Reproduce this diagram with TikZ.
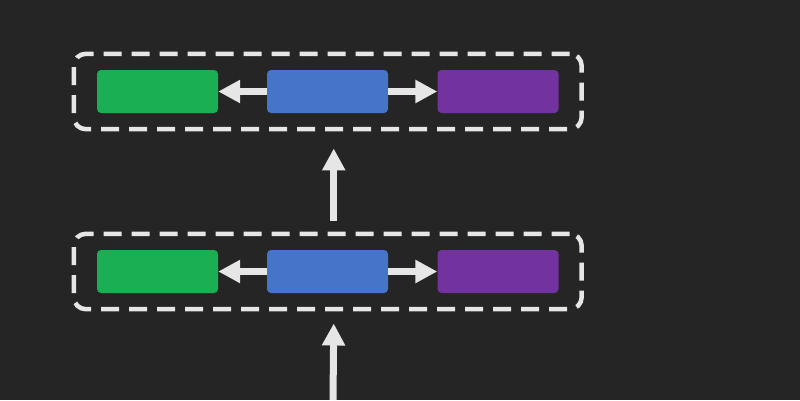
\documentclass[tikz,border=0pt]{standalone}
\usetikzlibrary{arrows.meta,fit}
\definecolor{bg}{HTML}{252525}
\definecolor{fg}{HTML}{E6E6E6}
\definecolor{cgreen}{HTML}{1BAF54}
\definecolor{cblue}{HTML}{4674C6}
\definecolor{cpurple}{HTML}{7232A0}
\tikzset{
  cell/.style={rounded corners=4pt, minimum width=121pt, minimum height=43pt, inner sep=0pt},
  frame/.style={draw=fg, line width=4.5pt, rounded corners=12pt, dash pattern=on 18pt off 10pt,
    inner xsep=23pt, inner ysep=16pt},
  flow/.style={draw=fg, line width=7pt, -{Triangle[length=22pt,width=22pt]}}
}
\begin{document}
\begin{tikzpicture}[x=1pt,y=-1pt]
      \fill[bg] (0,0) rectangle (800,400);
      \useasboundingbox (0,0) rectangle (800,400);
      \path
        (157.5,91.5) node[cell,fill=cgreen] (g1){}
        (327.5,91.5) node[cell,fill=cblue] (b1){}
        (498,91.5) node[cell,fill=cpurple] (p1){}
        (157.5,271.5) node[cell,fill=cgreen] (g2){}
        (327.5,271.5) node[cell,fill=cblue] (b2){}
        (498,271.5) node[cell,fill=cpurple] (p2){};
      \node[frame, fit=(g1)(p1)] (top){};
      \node[frame, fit=(g2)(p2)] (bot){};
      \coordinate (in) at (333,400);
      \begin{scope}[flow]
        \draw (b1) to (g1);
        \draw (b1) to (p1);
        \draw (b2) to (g2);
        \draw (b2) to (p2);
        \draw ([xshift=6pt,yshift=11pt]bot.north) to ([xshift=6pt,yshift=-17pt]top.south);
        \draw (in) to ([xshift=6pt,yshift=-12pt]bot.south);
      \end{scope}
    \end{tikzpicture}
\end{document}
